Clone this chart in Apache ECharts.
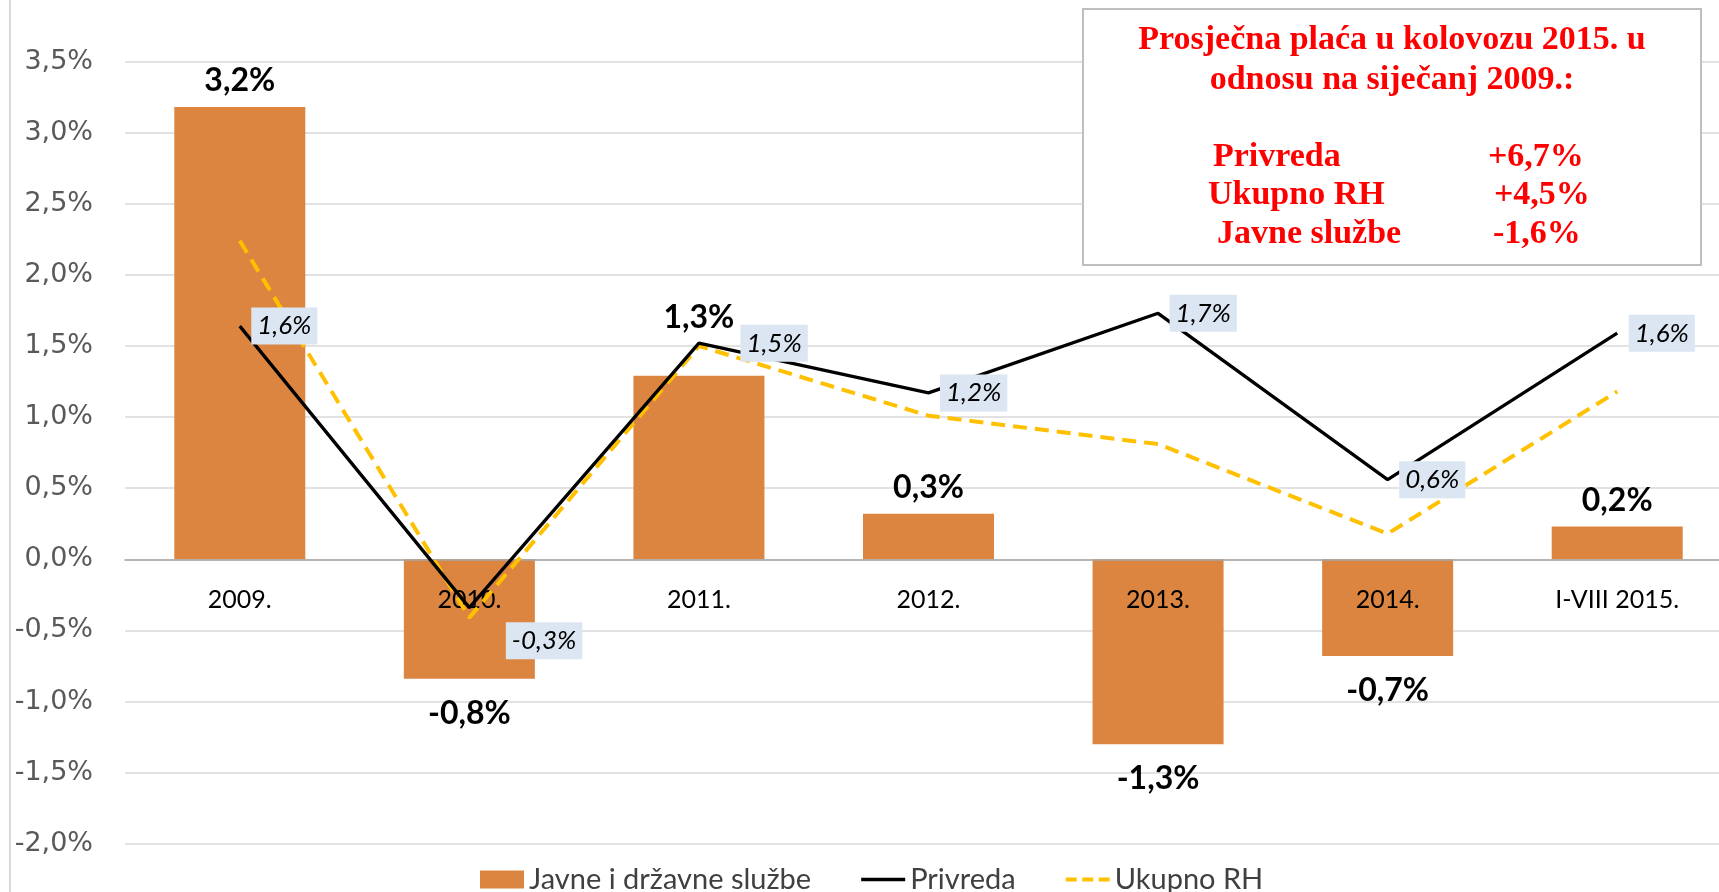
<!DOCTYPE html>
<html>
<head>
<meta charset="utf-8">
<script src="https://cdn.jsdelivr.net/npm/echarts@6/dist/echarts.min.js"></script>
<style>
  html, body { margin: 0; padding: 0; background: #fff; }
  #chart { width: 1719px; height: 892px; }
</style>
</head>
<body>
<div id="chart"></div>
<script>
// kategorije (godine)
var categories = ['2009.', '2010.', '2011.', '2012.', '2013.', '2014.', 'I-VIII 2015.'];
// Javne i državne službe (stupci)
var javne = [3.18, -0.84, 1.29, 0.32, -1.30, -0.68, 0.23];
// Privreda (crna linija)
var privreda = [1.64, -0.34, 1.52, 1.17, 1.73, 0.56, 1.59];
// Ukupno RH (žuta isprekidana)
var ukupno = [2.24, -0.41, 1.50, 1.01, 0.81, 0.18, 1.18];
// tekst u okviru
var boxTitle = ['Prosječna plaća u kolovozu 2015. u', 'odnosu na siječanj 2009.:'];
var boxNames = ['Privreda', 'Ukupno RH', 'Javne službe'];
var boxValues = ['+6,7%', '+4,5%', '-1,6%'];

function pct(v) {
    return v.toFixed(1).replace('.', ',') + '%';
}

var myChart = echarts.init(document.getElementById('chart'));

var barData = javne.map(function (v, i) {
    var item = {
        value: v,
        label: { position: v >= 0 ? 'top' : 'bottom', distance: v >= 0 ? 10 : 19 }
    };
    if (i === 2) item.label.offset = [0, -32]; // 2011 oznaka pomaknuta gore
    return item;
});

// oznake za Privreda liniju (ručno pomaknute kao u originalu)
var labelData = privreda.map(function (v, i) {
    var item = { value: v };
    if (i === 1) item.label = { offset: [25, 33] };
    if (i === 2) item.label = { offset: [30, 0] };
    return item;
});

// okvir s tekstom
var boxFont = 'bold 34px "Liberation Serif"';
var graphics = [
    { type: 'line', shape: { x1: 10, y1: 0, x2: 10, y2: 892 }, style: { stroke: '#d9d9d9', lineWidth: 2 }, z: 100 },
    { type: 'rect', shape: { x: 1083, y: 9, width: 618, height: 256 },
      style: { fill: '#fff', stroke: '#bfbfbf', lineWidth: 2 }, z: 100 }
];
boxTitle.forEach(function (t, i) {
    graphics.push({ type: 'text', x: 1392, y: 40 + i * 40, z: 101,
        style: { text: t, fill: '#ff0000', font: boxFont, textAlign: 'center', textVerticalAlign: 'middle' } });
});
var nameX = [1213, 1208, 1217];
var valX = [1488, 1494, 1493];
boxNames.forEach(function (n, i) {
    graphics.push({ type: 'text', x: nameX[i], y: 157 + i * 38.7, z: 101,
        style: { text: n, fill: '#ff0000', font: boxFont, textAlign: 'left', textVerticalAlign: 'middle' } });
    graphics.push({ type: 'text', x: valX[i], y: 157 + i * 38.7, z: 101,
        style: { text: boxValues[i], fill: '#ff0000', font: boxFont, textAlign: 'left', textVerticalAlign: 'middle' } });
});

var option = {
    animation: false,
    grid: { left: 125, width: 1607, top: 61.6, height: 782.1, outerBoundsMode: 'none', containLabel: false },
    legend: {
        left: 475,
        top: 860,
        itemWidth: 44,
        itemHeight: 18,
        itemGap: 50,
        textStyle: { fontFamily: 'Lato', fontSize: 29, color: '#404040' },
        data: [
            { name: 'Javne i državne službe', icon: 'rect' },
            { name: 'Privreda', icon: 'path://M0,0h44v3.3h-44z' },
            { name: 'Ukupno RH', icon: 'path://M0,0h11v4h-11zM16.5,0h11v4h-11zM33,0h11v4h-11z' }
        ]
    },
    xAxis: {
        type: 'category',
        data: categories,
        offset: -284.4,
        z: 3,
        axisTick: { show: false },
        axisLine: { onZero: false, lineStyle: { color: '#a6a6a6', width: 1.5 } },
        axisLabel: { fontFamily: 'Lato', fontSize: 25, color: '#000', margin: 28 }
    },
    yAxis: {
        type: 'value',
        min: -2,
        max: 3.5,
        interval: 0.5,
        axisLine: { show: false },
        axisTick: { show: false },
        splitLine: { lineStyle: { color: '#d9d9d9', width: 1.5 } },
        axisLabel: {
            fontFamily: 'DejaVu Sans', fontSize: 27, color: '#595959', margin: 32,
            formatter: function (v) { return pct(v); }
        }
    },
    series: [
        {
            name: 'Javne i državne službe',
            type: 'bar',
            data: barData,
            barWidth: 131,
            itemStyle: { color: '#db8540' },
            label: {
                show: true,
                fontFamily: 'Lato', fontWeight: 'bold', fontSize: 32, color: '#000',
                formatter: function (p) { return pct(p.value); }
            },
            z: 1
        },
        {
            name: 'Privreda',
            type: 'line',
            data: privreda,
            symbol: 'none',
            lineStyle: { color: '#000', width: 3.3 },
            itemStyle: { color: '#000' },
            z: 5
        },
        {
            name: 'Ukupno RH',
            type: 'line',
            data: ukupno,
            symbol: 'none',
            lineStyle: { color: '#ffc000', width: 4, type: [14, 8] },
            itemStyle: { color: '#ffc000' },
            z: 4
        },
        {
            name: 'Privreda oznake',
            type: 'scatter',
            data: labelData,
            symbolSize: 1,
            itemStyle: { color: 'rgba(0,0,0,0)', opacity: 1 },
            label: {
                show: true,
                position: 'right',
                distance: 11,
                fontFamily: 'Lato', fontStyle: 'italic', fontSize: 26, color: '#000',
                backgroundColor: '#dce6f2',
                padding: [6, 6, 5, 6],
                formatter: function (p) { return pct(p.value); }
            },
            z: 6
        }
    ],
    graphic: graphics
};
myChart.setOption(option);
</script>
</body>
</html>
